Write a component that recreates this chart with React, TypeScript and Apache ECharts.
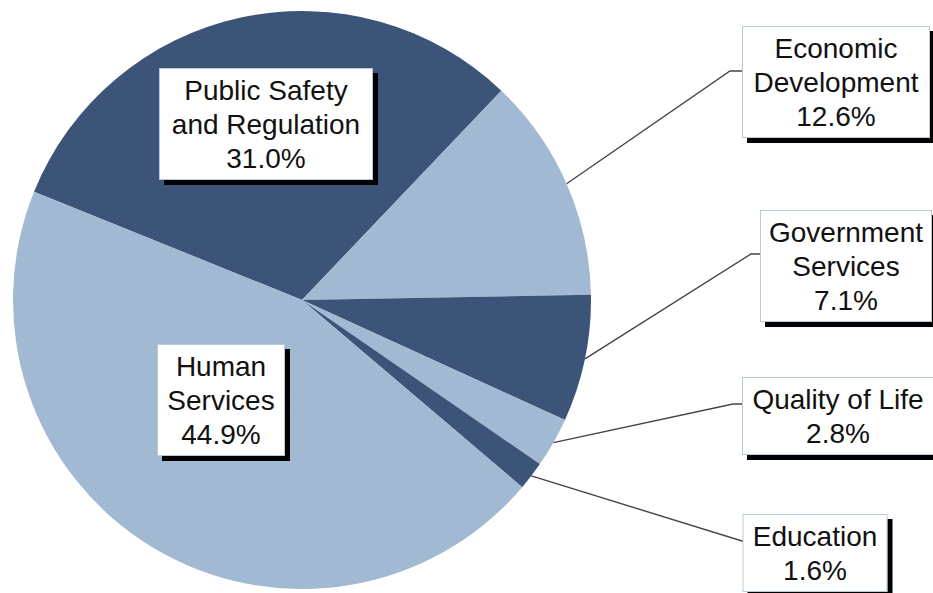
import React, { useEffect, useRef } from "react";
import * as echarts from "echarts";

const categories = [
  "Public Safety\nand Regulation",
  "Economic\nDevelopment",
  "Government\nServices",
  "Quality of Life",
  "Education",
  "Human\nServices",
];
const shares = [31.0, 12.6, 7.1, 2.8, 1.6, 44.9];

const DARK = "#3d5479";
const LIGHT = "#a2b9d3";
const sliceColors = [DARK, LIGHT, DARK, LIGHT, DARK, LIGHT];

// label box placement (center x, y), text width, leader-line bend/end points
const labelBoxes = [
  { x: 266, y: 124, w: 196, line: false },
  { x: 836, y: 82, w: 170, line: true, bend: [730, 71], end: [743, 71] },
  { x: 846, y: 266, w: 154, line: true, bend: [751, 254], end: [761, 254] },
  { x: 838, y: 416, w: 174, line: true, bend: [733, 404], end: [743, 404] },
  { x: 815, y: 553, w: 127, line: true, bend: [742, 541], end: [743, 541] },
  { x: 221, y: 400, w: 110, line: false },
];

export default function App() {
  const ref = useRef<HTMLDivElement>(null);
  useEffect(() => {
    document.body.style.margin = "0";
    const chart = echarts.init(ref.current!, undefined, { renderer: "svg" });
    const data = categories.map((name, i) => ({
      name,
      value: shares[i],
      itemStyle: { color: sliceColors[i] },
      label: { width: labelBoxes[i].w },
      labelLine: { show: labelBoxes[i].line },
    }));
    chart.setOption({
      animation: false,
      backgroundColor: "#ffffff",
      series: [
        {
          type: "pie",
          center: [302, 300],
          radius: 289,
          startAngle: 158,
          clockwise: true,
          avoidLabelOverlap: false,
          itemStyle: { borderWidth: 0 },
          emphasis: { disabled: true },
          data,
          label: {
            show: true,
            position: "outside",
            formatter: (p: any) => `${p.name}\n${Number(p.value).toFixed(1)}%`,
            fontFamily: "Liberation Sans, Arial, sans-serif",
            fontSize: 28,
            lineHeight: 34,
            color: "#111111",
            align: "center",
            overflow: "none",
            backgroundColor: "#ffffff",
            borderColor: "#b9c9dc",
            borderWidth: 1,
            padding: [4, 8],
            shadowColor: "#000000",
            shadowBlur: 0,
            shadowOffsetX: 5,
            shadowOffsetY: 5,
          },
          labelLine: {
            show: true,
            length: 20,
            length2: 20,
            smooth: false,
            lineStyle: { color: "#444444", width: 1.4 },
          },
          labelLayout: (p: any) => {
            const L = labelBoxes[p.dataIndex];
            const res: any = {
              x: L.x,
              y: L.y,
              align: "center",
              verticalAlign: "middle",
            };
            if (L.line && p.labelLinePoints) {
              res.labelLinePoints = [p.labelLinePoints[0], L.bend, L.end];
            }
            return res;
          },
        },
      ],
    });
    return () => chart.dispose();
  }, []);
  return <div ref={ref} style={{ width: 933, height: 593 }} />;
}
